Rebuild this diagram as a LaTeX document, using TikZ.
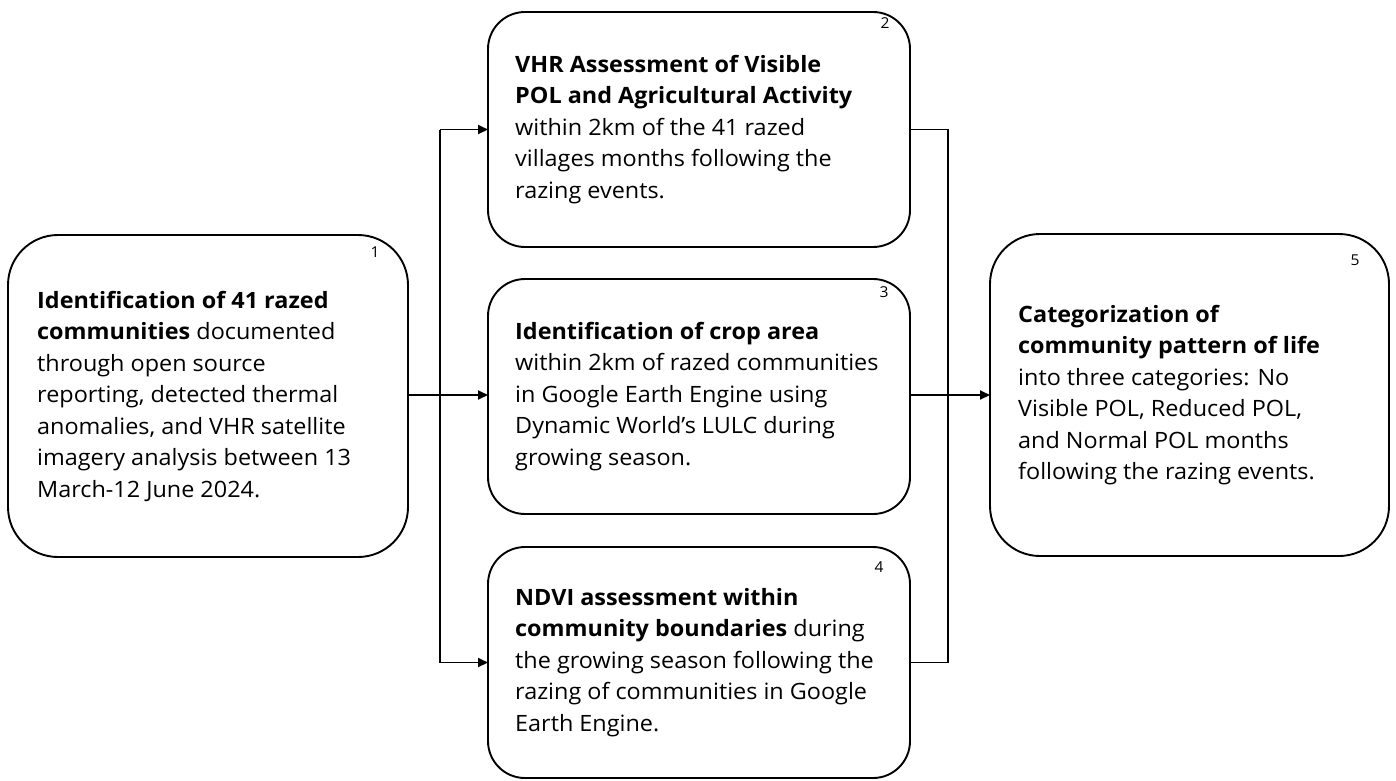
\documentclass[tikz,border=0pt]{standalone}
\usepackage{fontspec}
\setmainfont{Open Sans}[FakeStretch=1.04]
\usetikzlibrary{arrows.meta}
\tikzset{
  boxbig/.style={draw=black, line width=1.9pt, rounded corners=50pt},
  boxsmall/.style={draw=black, line width=1.9pt, rounded corners=37pt},
  anchorbox/.style={inner sep=0pt, outer sep=0pt},
  txt/.style={anchor=west, align=left, inner sep=0pt, font=\fontsize{22.5}{31.5}\selectfont},
  num/.style={inner sep=0pt, font=\fontsize{15}{16}\selectfont},
  conn/.style={draw=black, line width=1.8pt},
  arr/.style={conn, -{Triangle[length=10pt,width=9pt]}}
}
\begin{document}
\begin{tikzpicture}[x=1pt,y=-1pt]
\useasboundingbox (0,0) rectangle (1396,780);
% boxes
\draw[boxbig] (8,235) rectangle (408,557);
\node[anchorbox, minimum width=400pt, minimum height=322pt] (b1) at (208,396) {};
\draw[boxsmall] (488,12) rectangle (910,247);
\node[anchorbox, minimum width=422pt, minimum height=235pt] (b2) at (699,129.5) {};
\draw[boxsmall] (488,279) rectangle (910,514);
\node[anchorbox, minimum width=422pt, minimum height=235pt] (b3) at (699,396.5) {};
\draw[boxsmall] (488,547) rectangle (910,778);
\node[anchorbox, minimum width=422pt, minimum height=231pt] (b4) at (699,662.5) {};
\draw[boxbig] (990,234) rectangle (1389,556);
\node[anchorbox, minimum width=399pt, minimum height=322pt] (b5) at (1189.5,395) {};
% numbers
\node[num] (n1) at (375,252) {1};
\node[num] (n2) at (885,23) {2};
\node[num] (n3) at (884,292) {3};
\node[num] (n4) at (879,567) {4};
\node[num] (n5) at (1355,260) {5};
% texts
\node[txt] (t1) at ([xshift=29pt]b1.west) {\textbf{Identification of 41 razed}\\\textbf{communities} documented\\through open source\\reporting, detected thermal\\anomalies, and VHR satellite\\imagery analysis between 13\\March-12 June 2024.};
\node[txt] (t2) at ([xshift=27pt]b2.west) {\textbf{VHR Assessment of Visible}\\\textbf{POL and Agricultural Activity}\\within 2km of the 41 razed\\villages months following the\\razing events.};
\node[txt] (t3) at ([xshift=27pt]b3.west) {\textbf{Identification of crop area}\\within 2km of razed communities\\in Google Earth Engine using\\Dynamic World’s LULC during\\growing season.};
\node[txt] (t4) at ([xshift=27pt]b4.west) {\textbf{NDVI assessment within}\\\textbf{community boundaries} during\\the growing season following the\\razing of communities in Google\\Earth Engine.};
\node[txt] (t5) at ([xshift=28pt]b5.west) {\textbf{Categorization of}\\\textbf{community pattern of life}\\into three categories: No\\Visible POL, Reduced POL,\\and Normal POL months\\following the razing events.};
% connectors
\coordinate (sl) at (440,395);
\coordinate (sr) at (948,395);
\draw[conn] (b1.east |- sl) -- (sl);
\draw[conn] (sl |- b2.east) -- (sl |- b4.east);
\draw[arr] (sl |- b2.east) -- (b2.west);
\draw[arr] (sl) -- (b3.west |- sl);
\draw[arr] (sl |- b4.east) -- (b4.west);
\draw[conn] (b2.east) -- (sr |- b2.east) -- (sr |- b4.east) -- (b4.east);
\draw[arr] (b3.east |- sr) -- (b5.west |- sr);
\end{tikzpicture}
\end{document}
